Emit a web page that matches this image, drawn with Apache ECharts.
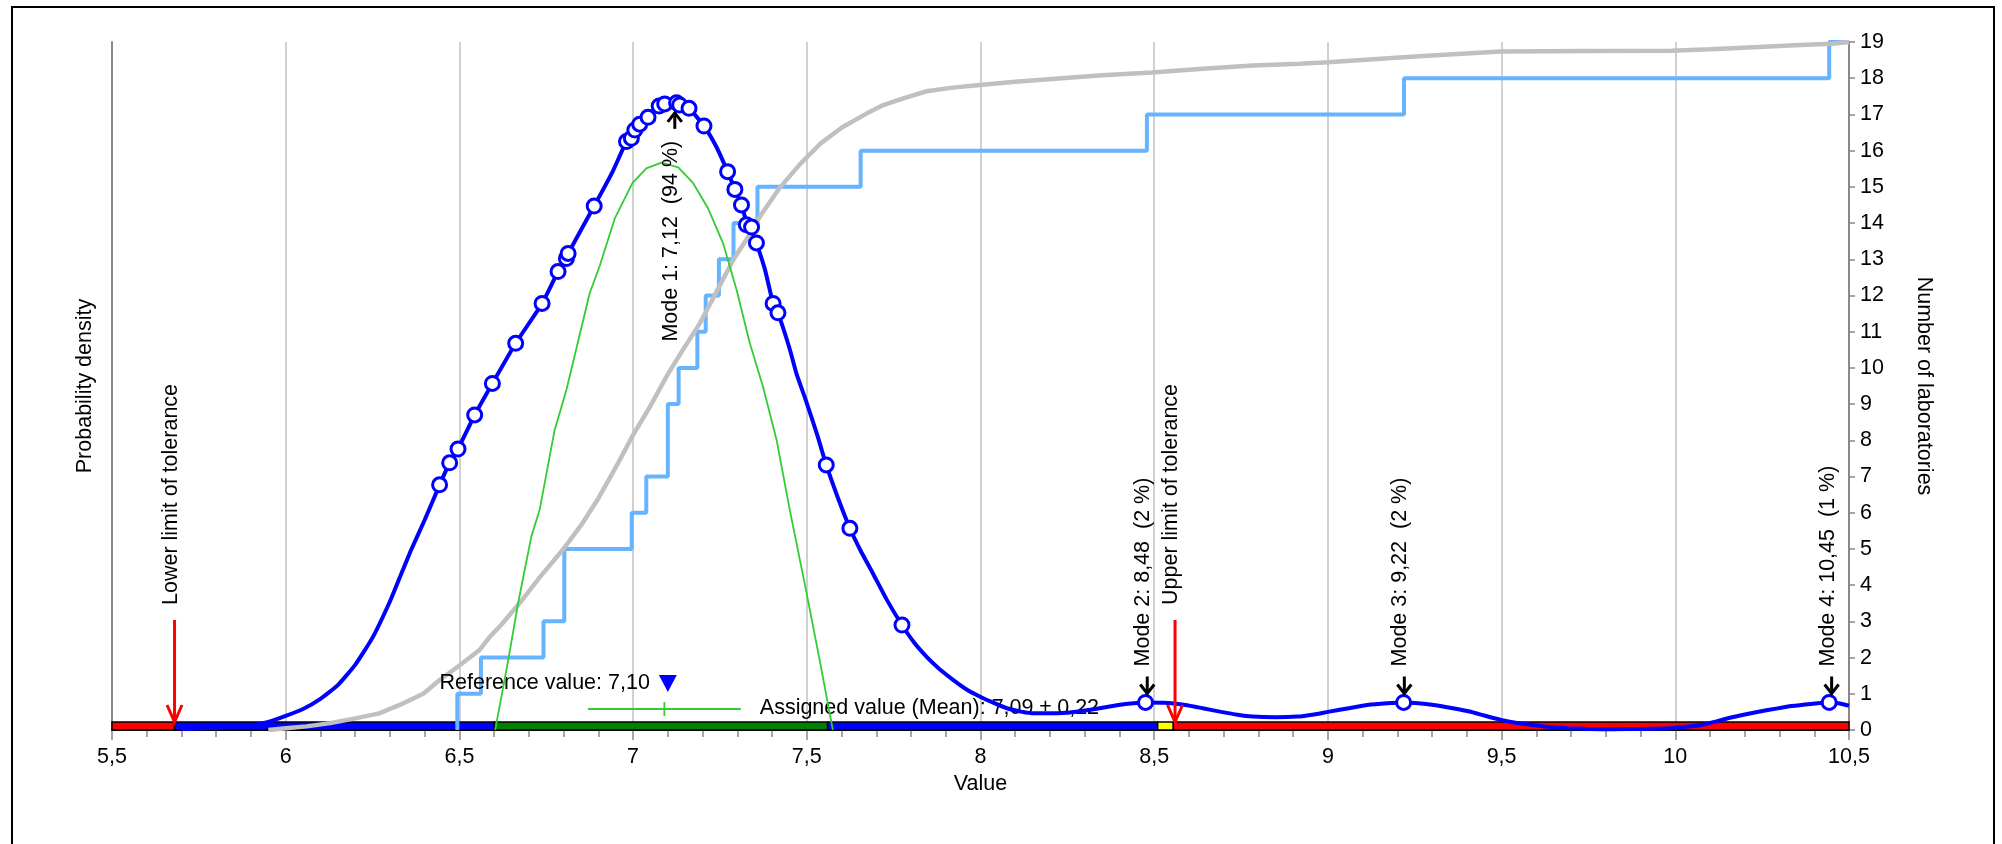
<!DOCTYPE html>
<html><head><meta charset="utf-8">
<script src="https://cdn.jsdelivr.net/npm/echarts@6/dist/echarts.min.js"></script>
<style>html,body{margin:0;padding:0;background:#fff}#chart{width:2002px;height:844px}</style>
</head><body><div id="chart"></div>
<script>
// ---------------- DATA ----------------
const xTickValues = [5.5, 6, 6.5, 7, 7.5, 8, 8.5, 9, 9.5, 10, 10.5];
const labCountTicks = [0,1,2,3,4,5,6,7,8,9,10,11,12,13,14,15,16,17,18,19];

// sorted laboratory results (cumulative step line, right axis)
const labValues = [6.494, 6.562, 6.742, 6.802, 6.802, 6.996, 7.038, 7.100, 7.100, 7.131,
                   7.185, 7.209, 7.247, 7.289, 7.358, 7.655, 8.479, 9.219, 10.443];

// kernel density curve (blue)
const densityX = [5.70,5.80,5.90,5.95,6.00,6.05,6.10,6.15,6.20,6.25,6.30,6.33,6.36,6.40,6.443,6.472,6.496,6.544,6.595,6.662,6.738,6.784,6.808,6.813,6.888,6.94,6.981,6.995,7.005,7.019,7.043,7.075,7.091,7.125,7.134,7.161,7.204,7.24,7.272,7.293,7.312,7.326,7.341,7.355,7.38,7.403,7.417,7.45,7.47,7.497,7.53,7.556,7.59,7.624,7.655,7.69,7.73,7.774,7.81,7.845,7.88,7.922,7.96,7.999,8.04,8.076,8.12,8.154,8.21,8.269,8.33,8.397,8.44,8.475,8.53,8.59,8.64,8.693,8.74,8.783,8.85,8.912,8.96,9.00,9.06,9.113,9.17,9.218,9.26,9.305,9.36,9.408,9.45,9.498,9.54,9.588,9.64,9.691,9.75,9.819,9.90,9.986,10.03,10.076,10.115,10.154,10.20,10.243,10.29,10.333,10.39,10.443,10.47,10.50];
const densityY = [0.03,0.06,0.12,0.22,0.39,0.58,0.86,1.24,1.80,2.55,3.55,4.25,4.95,5.80,6.77,7.38,7.76,8.70,9.57,10.68,11.78,12.66,13.02,13.16,14.47,15.40,16.25,16.34,16.57,16.73,16.92,17.23,17.29,17.32,17.26,17.17,16.68,16.10,15.42,14.93,14.50,14.05,13.80,13.45,12.70,11.78,11.52,10.55,9.85,9.11,8.15,7.32,6.40,5.57,4.95,4.33,3.60,2.90,2.40,2.02,1.70,1.38,1.12,0.92,0.74,0.60,0.50,0.46,0.46,0.50,0.58,0.69,0.74,0.76,0.75,0.69,0.60,0.50,0.42,0.37,0.35,0.37,0.43,0.50,0.60,0.69,0.74,0.76,0.74,0.69,0.60,0.51,0.40,0.28,0.20,0.14,0.08,0.05,0.03,0.02,0.03,0.05,0.09,0.14,0.23,0.33,0.43,0.51,0.59,0.66,0.72,0.76,0.74,0.67];

// individual results shown as circles on the density curve
const circleX = [6.443,6.472,6.496,6.544,6.595,6.662,6.738,6.784,6.808,6.813,6.888,6.981,6.995,7.005,7.019,7.043,7.075,7.091,7.125,7.134,7.161,7.204,7.272,7.293,7.312,7.326,7.341,7.355,7.403,7.417,7.556,7.624,7.774,8.475,9.218,10.443];
const circleY = [6.77,7.38,7.76,8.70,9.57,10.68,11.78,12.66,13.02,13.16,14.47,16.25,16.34,16.57,16.73,16.92,17.23,17.29,17.32,17.26,17.17,16.68,15.42,14.93,14.50,13.95,13.89,13.45,11.78,11.52,7.32,5.57,2.90,0.76,0.76,0.76];

// green curve (assigned-value distribution)
const normalX = [6.603,6.64,6.669,6.707,6.731,6.774,6.808,6.875,6.904,6.947,6.998,7.038,7.082,7.130,7.173,7.216,7.259,7.298,7.336,7.374,7.413,7.451,7.499,7.537,7.575];
const normalY = [0,1.90,3.50,5.34,6.08,8.28,9.39,12.06,12.82,14.12,15.10,15.51,15.67,15.54,15.10,14.40,13.44,12.15,10.68,9.48,8.01,6.08,3.80,1.93,0];

// grey cumulative distribution (right axis)
const cumX = [5.95,6.00,6.06,6.128,6.20,6.269,6.33,6.397,6.443,6.50,6.558,6.59,6.62,6.673,6.73,6.797,6.85,6.897,6.95,7.00,7.05,7.096,7.14,7.192,7.24,7.288,7.33,7.365,7.42,7.48,7.54,7.601,7.673,7.716,7.78,7.845,7.92,7.998,8.10,8.205,8.35,8.493,8.64,8.783,8.92,9.00,9.25,9.497,9.75,9.988,10.10,10.21,10.36,10.45,10.50];
const cumY = [0,0.05,0.10,0.19,0.32,0.46,0.70,1.01,1.38,1.78,2.21,2.60,2.90,3.50,4.20,4.97,5.65,6.35,7.25,8.15,8.95,9.76,10.45,11.23,12.10,12.98,13.60,14.18,14.95,15.62,16.20,16.64,17.03,17.24,17.45,17.64,17.74,17.81,17.90,17.98,18.08,18.16,18.26,18.35,18.40,18.44,18.60,18.74,18.75,18.76,18.80,18.85,18.92,18.95,19.0];

// modes
const modeValues = [7.12, 8.48, 9.22, 10.45];
const modeShares = [94, 2, 2, 1];
const modeDensity = [17.32, 0.76, 0.76, 0.76];

// tolerance limits
const toleranceValues = [5.68, 8.56];
const toleranceLabels = ['Lower limit of tolerance', 'Upper limit of tolerance'];

// reference / assigned value
const referenceValue = 7.10;
const assignedValue = 7.09;
const assignedUncertainty = 0.22;

// evaluation band at the bottom
const bandEdges = [5.5, 5.68, 6.60, 7.56, 8.51, 8.555, 10.5];

// ---------------- STYLE ----------------
const bandColors = ['#ff0000', '#0000ff', '#008000', '#0000ff', '#ffff00', '#ff0000'];
const FONT = 'Liberation Sans, Arial, Helvetica, sans-serif';
const FS = 21.5;
const fmt = (v, d) => (d === undefined ? String(v) : v.toFixed(d)).replace('.', ',');

const chart = echarts.init(document.getElementById('chart'), null, {renderer: 'canvas'});

const stepData = [[labValues[0], 0]].concat(labValues.map((v, i) => [v, i + 1])).concat([[10.5, labValues.length]]);

const option = {
  animation: false,
  backgroundColor: '#fff',
  textStyle: {fontFamily: FONT},
  graphic: [{
    type: 'rect', shape: {x: 12, y: 7, width: 1982, height: 900},
    style: {fill: 'none', stroke: '#000', lineWidth: 2}, z: -10
  }],
  grid: {left: 112, right: 153, top: 42, bottom: 114, containLabel: false},
  xAxis: [{
    type: 'value', min: 5.5, max: 10.5, interval: 0.5, position: 'bottom',
    name: 'Value', nameLocation: 'middle', nameGap: 41,
    nameTextStyle: {color: '#000', fontSize: FS, fontFamily: FONT},
    axisLine: {show: true, onZero: false, lineStyle: {color: '#888', width: 2}},
    axisTick: {show: true, length: 10, lineStyle: {color: '#888', width: 1.5}},
    minorTick: {show: true, splitNumber: 5, length: 7, lineStyle: {color: '#888', width: 1.5}},
    axisLabel: {color: '#000', fontSize: FS, fontFamily: FONT, margin: 16,
      formatter: v => xTickValues.indexOf(v) >= 0 ? fmt(v) : ''},
    splitLine: {show: true, lineStyle: {color: '#c0c0c0', width: 1.5}}
  }, {
    type: 'value', min: 5.5, max: 10.5, position: 'top',
    axisLine: {show: true, lineStyle: {color: '#000', width: 2}},
    axisTick: {show: false}, axisLabel: {show: false}, splitLine: {show: false}
  }],
  yAxis: [{
    type: 'value', min: 0, max: 19, position: 'left',
    name: 'Probability density', nameLocation: 'middle', nameGap: 16,
    nameTextStyle: {color: '#000', fontSize: FS, fontFamily: FONT},
    axisLine: {show: true, lineStyle: {color: '#888', width: 2}},
    axisTick: {show: false}, axisLabel: {show: false}, splitLine: {show: false}
  }, {
    type: 'value', min: 0, max: 19, interval: 1, position: 'right',
    name: 'Number of laboratories', nameLocation: 'middle', nameGap: 64, nameRotate: -90,
    nameTextStyle: {color: '#000', fontSize: FS, fontFamily: FONT},
    axisLine: {show: true, lineStyle: {color: '#888', width: 2}},
    axisTick: {show: true, length: 6, lineStyle: {color: '#888', width: 1.5}},
    axisLabel: {color: '#000', fontSize: FS, fontFamily: FONT, margin: 11,
      formatter: v => labCountTicks.indexOf(v) >= 0 ? String(v) : ''},
    splitLine: {show: false}
  }],
  series: [
    { // evaluation band
      type: 'custom', xAxisIndex: 0, yAxisIndex: 1, z: 1, silent: true,
      data: bandEdges.slice(0, -1).map((x, i) => [x, bandEdges[i + 1], i]),
      renderItem: (params, api) => {
        const p0 = api.coord([api.value(0), 0]);
        const p1 = api.coord([api.value(1), 0]);
        return {type: 'rect', shape: {x: p0[0], y: p0[1] - 8, width: p1[0] - p0[0], height: 8},
          style: {fill: bandColors[api.value(2)], stroke: '#000', lineWidth: 1.5}};
      }
    },
    { // cumulative step count
      type: 'line', xAxisIndex: 0, yAxisIndex: 1, step: 'end', z: 2,
      data: stepData, showSymbol: false, symbol: 'none',
      lineStyle: {color: '#66b3ff', width: 4}
    },
    { // grey cumulative distribution
      type: 'line', xAxisIndex: 0, yAxisIndex: 1, z: 3,
      data: cumX.map((x, i) => [x, cumY[i]]), showSymbol: false, symbol: 'none',
      lineStyle: {color: '#c0c0c0', width: 4.5}
    },
    { // green normal curve
      type: 'line', xAxisIndex: 0, yAxisIndex: 0, z: 4,
      data: normalX.map((x, i) => [x, normalY[i]]), showSymbol: false, symbol: 'none',
      lineStyle: {color: '#33cc33', width: 1.8}
    },
    { // reference & assigned value annotations
      type: 'custom', xAxisIndex: 0, yAxisIndex: 0, z: 4, silent: true,
      data: [[referenceValue, assignedValue, assignedUncertainty]],
      renderItem: (params, api) => {
        const base = api.coord([api.value(0), 0]);
        const rx = base[0];
        const ry = base[1] - 47;
        const m = api.coord([api.value(1), 0]);
        const lo = api.coord([api.value(1) - api.value(2), 0]);
        const hi = api.coord([api.value(1) + api.value(2), 0]);
        const ay = base[1] - 21;
        return {type: 'group', children: [
          {type: 'polygon', shape: {points: [[rx - 9, ry - 8], [rx + 9, ry - 8], [rx, ry + 9]]}, style: {fill: '#0000ff'}},
          {type: 'text', x: rx - 18, y: ry, style: {text: 'Reference value: ' + fmt(api.value(0), 2), fill: '#000', font: FS + 'px ' + FONT, align: 'right', verticalAlign: 'middle'}},
          {type: 'line', shape: {x1: lo[0], y1: ay, x2: hi[0], y2: ay}, style: {stroke: '#33cc33', lineWidth: 1.8}},
          {type: 'line', shape: {x1: m[0], y1: ay - 7, x2: m[0], y2: ay + 7}, style: {stroke: '#33cc33', lineWidth: 1.8}},
          {type: 'text', x: hi[0] + 19, y: ay - 1, style: {text: 'Assigned value (Mean): ' + fmt(api.value(1), 2) + ' \u00b1 ' + fmt(api.value(2), 2), fill: '#000', font: FS + 'px ' + FONT, align: 'left', verticalAlign: 'middle'}}
        ]};
      }
    },
    { // blue density curve
      type: 'line', xAxisIndex: 0, yAxisIndex: 0, z: 5, smooth: 0.15,
      data: densityX.map((x, i) => [x, densityY[i]]), showSymbol: false, symbol: 'none',
      lineStyle: {color: '#0000ff', width: 4}
    },
    { // circles
      type: 'scatter', xAxisIndex: 0, yAxisIndex: 0, z: 6,
      data: circleX.map((x, i) => [x, circleY[i]]),
      symbol: 'circle', symbolSize: 14,
      itemStyle: {color: '#ffffff', borderColor: '#0000ff', borderWidth: 3, opacity: 1}
    },
    { // tolerance limits
      type: 'custom', xAxisIndex: 0, yAxisIndex: 0, z: 7, silent: true,
      data: toleranceValues.map((v, i) => [v, i]),
      renderItem: (params, api) => {
        const p = api.coord([api.value(0), 0]);
        const px = p[0], tip = p[1] - 8, tail = tip - 102;
        return {type: 'group', children: [
          {type: 'line', shape: {x1: px, y1: tail, x2: px, y2: tip}, style: {stroke: '#ff0000', lineWidth: 3}},
          {type: 'polyline', shape: {points: [[px - 7.5, tip - 17], [px, tip], [px + 7.5, tip - 17]]}, style: {stroke: '#ff0000', lineWidth: 3, fill: 'none'}},
          {type: 'text', x: px - 3.5, y: tail - 15, rotation: Math.PI / 2,
            style: {text: toleranceLabels[api.value(1)], fill: '#000', font: FS + 'px ' + FONT, align: 'left', verticalAlign: 'middle'}}
        ]};
      }
    },
    { // modes
      type: 'custom', xAxisIndex: 0, yAxisIndex: 0, z: 8, silent: true,
      data: modeValues.map((v, i) => [v, modeDensity[i], i]),
      renderItem: (params, api) => {
        const i = api.value(2);
        const p = api.coord([api.value(0), api.value(1)]);
        const px = p[0];
        const label = 'Mode ' + (i + 1) + ': ' + fmt(modeValues[i], 2) + '  (' + modeShares[i] + ' %)';
        const ch = [];
        if (i === 0) {
          const tip = p[1] + 10, tail = tip + 16;
          ch.push({type: 'line', shape: {x1: px, y1: tip, x2: px, y2: tail}, style: {stroke: '#000', lineWidth: 3}});
          ch.push({type: 'polyline', shape: {points: [[px - 7, tip + 9], [px, tip], [px + 7, tip + 9]]}, style: {stroke: '#000', lineWidth: 3, fill: 'none'}});
          ch.push({type: 'text', x: px - 4, y: tail + 12, rotation: Math.PI / 2,
            style: {text: label, fill: '#000', font: FS + 'px ' + FONT, align: 'right', verticalAlign: 'middle'}});
        } else {
          const tip = p[1] - 9, tail = tip - 17;
          ch.push({type: 'line', shape: {x1: px, y1: tip, x2: px, y2: tail}, style: {stroke: '#000', lineWidth: 3}});
          ch.push({type: 'polyline', shape: {points: [[px - 7, tip - 9], [px, tip], [px + 7, tip - 9]]}, style: {stroke: '#000', lineWidth: 3, fill: 'none'}});
          ch.push({type: 'text', x: px - 4, y: tail - 10, rotation: Math.PI / 2,
            style: {text: label, fill: '#000', font: FS + 'px ' + FONT, align: 'left', verticalAlign: 'middle'}});
        }
        return {type: 'group', children: ch};
      }
    }
  ]
};
chart.setOption(option);
</script>
</body></html>
